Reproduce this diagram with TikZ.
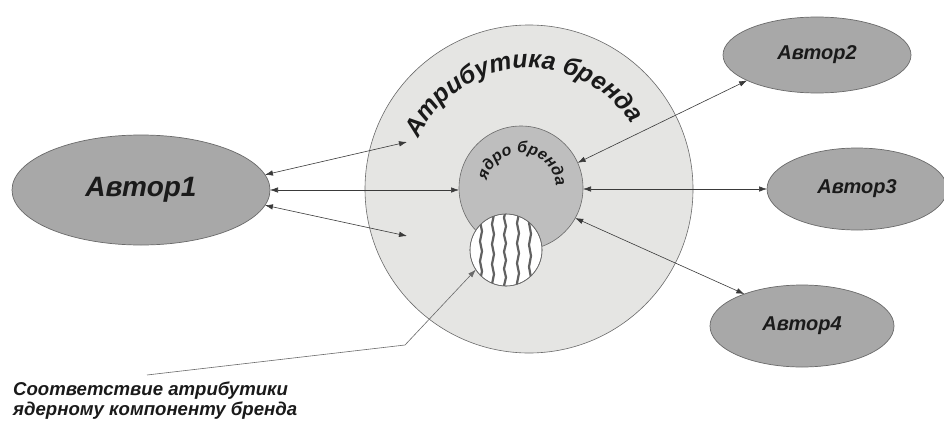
\documentclass[tikz,border=0pt]{standalone}
\usepackage{fontspec}
\setmainfont{Liberation Sans}
\usetikzlibrary{shapes.geometric,arrows.meta,decorations.text,decorations.pathmorphing}
\definecolor{ringfill}{HTML}{E5E5E3}
\definecolor{corefill}{HTML}{BEBEBE}
\definecolor{authfill}{HTML}{A8A8A8}
\definecolor{edgecol}{HTML}{6A6A6A}
\definecolor{linecol}{HTML}{3A3A3A}
\definecolor{txtcol}{HTML}{1A1A1A}
\newcommand\bifont[1]{\fontsize{#1}{#1}\selectfont\bfseries\itshape}
\begin{document}
\begin{tikzpicture}[x=1pt,y=-1pt,
  author/.style={ellipse,draw=edgecol,line width=0.7pt,fill=authfill,inner sep=0,outer sep=0,text=txtcol},
  ringc/.style={circle,draw=edgecol,line width=0.6pt,inner sep=0,outer sep=0},
  conn/.style={draw=linecol,line width=0.6pt,{Latex[length=8pt,width=5.5pt]}-{Latex[length=8pt,width=5.5pt]}},
  pointer/.style={draw=edgecol,line width=0.6pt,-{Latex[length=8pt,width=5.5pt]}},
  wavy/.style={draw=linecol!80,line width=2.2pt,decorate,decoration={snake,amplitude=1pt,segment length=20pt}}]
\path[use as bounding box] (0,0) rectangle (944,420);
\fill[white] (0,0) rectangle (944,420);

% circles
\node[ringc,fill=ringfill,minimum size=328pt] (attr) at (529,189) {};
\node[ringc,fill=corefill,minimum size=124pt] (core) at (521,188) {};
\node[ringc,fill=white,minimum size=72pt] (match) at (506,250) {};
\begin{scope}
  \clip (match.center) circle[radius=36];
  \draw[wavy] (481,205) -- (481,295);
  \draw[wavy] (493,208) -- (493,298);
  \draw[wavy,decoration={snake,amplitude=1pt,segment length=17pt}] (505,204) -- (505,296);
  \draw[wavy] (518,207) -- (518,297);
  \draw[wavy,decoration={snake,amplitude=1pt,segment length=22pt}] (530,205) -- (530,295);
\end{scope}
\draw[draw=edgecol,line width=0.6pt] (match.center) circle[radius=36];

% curved texts
\path[decorate,decoration={text along path,text align=center,
  text={|\bifont{25}\color{txtcol}|Атрибутика бренда}}]
  ([shift={(-167:121)}]attr.center) arc[start angle=-167,end angle=-21,radius=121];
\path[decorate,decoration={text along path,text align=center,
  text={|\bifont{16}\color{txtcol}|ядро бренда}}]
  ([shift={(-178:35)}]core.center) arc[start angle=-178,end angle=8,radius=35];

% authors
\node[author,minimum width=258pt,minimum height=110pt,font=\bifont{28}] (a1) at (141,190) {Автор1};
\node[author,minimum width=188pt,minimum height=76pt,font=\bifont{20}] (a2) at (817,55) {Автор2};
\node[author,minimum width=180pt,minimum height=82pt,font=\bifont{20}] (a3) at (857,189) {Автор3};
\node[author,minimum width=184pt,minimum height=82pt,font=\bifont{20}] (a4) at (802,326) {Автор4};

% connectors
\coordinate (t1) at (407,142);
\coordinate (t3) at (407,236);
\draw[conn] (a1.7) -- (t1);
\draw[conn] (a1.east) -- (a1.east -| core.west);
\draw[conn] (a1.-7) -- (t3);
\draw[conn] (a2.200) -- (core.24);
\draw[conn] (a3.west) -- (a3.west -| core.east);
\draw[conn] (a4.151) -- (core.-29);

% label and pointer
\node[anchor=base west,align=left,inner sep=0,text=txtcol,
  font=\fontsize{18.6}{19.5}\selectfont\bfseries\itshape] (lbl) at (13,415)
  {Соответствие атрибутики\\ядерному компоненту бренда};
\coordinate (m1) at (147,375);
\coordinate (m2) at (405,345);
\draw[pointer] (m1) -- (m2) -- (match.213);
\end{tikzpicture}
\end{document}
